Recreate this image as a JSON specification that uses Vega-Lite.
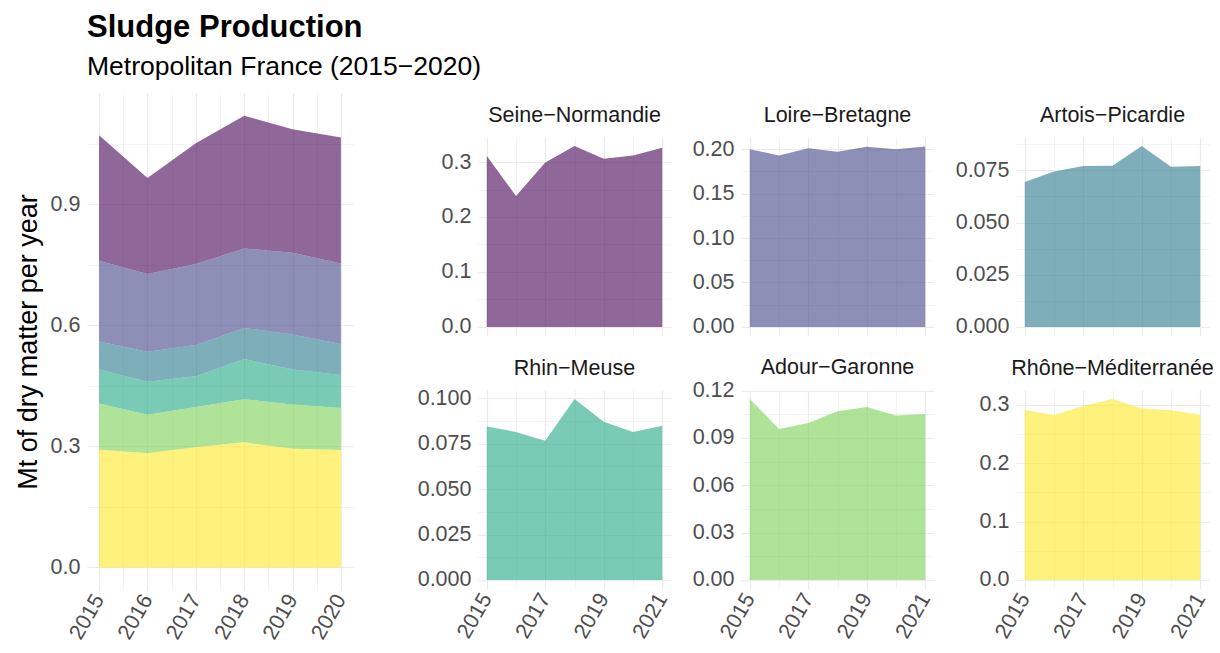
{
  "$schema": "https://vega.github.io/schema/vega-lite/v6.json",
  "padding": {"left": 14, "top": 11, "right": 4, "bottom": 4},
  "background": "white",
  "title": {
    "text": "Sludge Production",
    "subtitle": "Metropolitan France (2015−2020)",
    "anchor": "start",
    "frame": "group",
    "fontSize": 31,
    "fontWeight": "bold",
    "color": "#000000",
    "subtitleFontSize": 26.5,
    "subtitleColor": "#000000",
    "subtitleFont": "Liberation Sans",
    "subtitlePadding": 10,
    "offset": 12
  },
  "datasets": {
    "sludge": [
      {"basin": "Seine−Normandie", "year": 2015, "value": 0.311},
      {"basin": "Seine−Normandie", "year": 2016, "value": 0.238},
      {"basin": "Seine−Normandie", "year": 2017, "value": 0.299},
      {"basin": "Seine−Normandie", "year": 2018, "value": 0.329},
      {"basin": "Seine−Normandie", "year": 2019, "value": 0.306},
      {"basin": "Seine−Normandie", "year": 2020, "value": 0.312},
      {"basin": "Seine−Normandie", "year": 2021, "value": 0.326},
      {"basin": "Loire−Bretagne", "year": 2015, "value": 0.200},
      {"basin": "Loire−Bretagne", "year": 2016, "value": 0.193},
      {"basin": "Loire−Bretagne", "year": 2017, "value": 0.201},
      {"basin": "Loire−Bretagne", "year": 2018, "value": 0.197},
      {"basin": "Loire−Bretagne", "year": 2019, "value": 0.2026},
      {"basin": "Loire−Bretagne", "year": 2020, "value": 0.200},
      {"basin": "Loire−Bretagne", "year": 2021, "value": 0.203},
      {"basin": "Artois−Picardie", "year": 2015, "value": 0.0694},
      {"basin": "Artois−Picardie", "year": 2016, "value": 0.0745},
      {"basin": "Artois−Picardie", "year": 2017, "value": 0.0771},
      {"basin": "Artois−Picardie", "year": 2018, "value": 0.0772},
      {"basin": "Artois−Picardie", "year": 2019, "value": 0.0867},
      {"basin": "Artois−Picardie", "year": 2020, "value": 0.0768},
      {"basin": "Artois−Picardie", "year": 2021, "value": 0.0771},
      {"basin": "Rhin−Meuse", "year": 2015, "value": 0.0845},
      {"basin": "Rhin−Meuse", "year": 2016, "value": 0.0815},
      {"basin": "Rhin−Meuse", "year": 2017, "value": 0.0766},
      {"basin": "Rhin−Meuse", "year": 2018, "value": 0.0996},
      {"basin": "Rhin−Meuse", "year": 2019, "value": 0.0871},
      {"basin": "Rhin−Meuse", "year": 2020, "value": 0.0815},
      {"basin": "Rhin−Meuse", "year": 2021, "value": 0.0849},
      {"basin": "Adour−Garonne", "year": 2015, "value": 0.1147},
      {"basin": "Adour−Garonne", "year": 2016, "value": 0.0957},
      {"basin": "Adour−Garonne", "year": 2017, "value": 0.0995},
      {"basin": "Adour−Garonne", "year": 2018, "value": 0.1069},
      {"basin": "Adour−Garonne", "year": 2019, "value": 0.1096},
      {"basin": "Adour−Garonne", "year": 2020, "value": 0.1043},
      {"basin": "Adour−Garonne", "year": 2021, "value": 0.1052},
      {"basin": "Rhône−Méditerranée", "year": 2015, "value": 0.2914},
      {"basin": "Rhône−Méditerranée", "year": 2016, "value": 0.2828},
      {"basin": "Rhône−Méditerranée", "year": 2017, "value": 0.298},
      {"basin": "Rhône−Méditerranée", "year": 2018, "value": 0.310},
      {"basin": "Rhône−Méditerranée", "year": 2019, "value": 0.294},
      {"basin": "Rhône−Méditerranée", "year": 2020, "value": 0.291},
      {"basin": "Rhône−Méditerranée", "year": 2021, "value": 0.283}
    ]
  },
  "spacing": 64,
  "hconcat": [
    {
      "width": 266,
      "height": 497,
      "data": {"name": "sludge"},
      "transform": [
        {"filter": "datum.year <= 2020"},
        {"calculate": "indexof(['Rhône−Méditerranée','Adour−Garonne','Rhin−Meuse','Artois−Picardie','Loire−Bretagne','Seine−Normandie'], datum.basin)", "as": "stackIdx"}
      ],
      "mark": {"type": "area", "opacity": 0.6},
      "encoding": {
        "x": {
          "field": "year", "type": "quantitative",
          "scale": {"domain": [2014.75, 2020.25], "nice": false, "zero": false},
          "axis": {
            "title": null,
            "values": [2015, 2015.5, 2016, 2016.5, 2017, 2017.5, 2018, 2018.5, 2019, 2019.5, 2020],
            "labelExpr": "datum.value % 1 === 0 ? format(datum.value, 'd') : ''",
            "gridWidth": {"condition": {"test": "datum.value % 1 !== 0", "value": 0.6}, "value": 1.2},
            "labelAngle": -60, "labelAlign": "right", "labelBaseline": "middle", "labelPadding": 6
          }
        },
        "y": {
          "field": "value", "type": "quantitative", "stack": "zero",
          "scale": {"domain": [-0.056, 1.176], "nice": false, "zero": false},
          "axis": {
            "title": "Mt of dry matter per year",
            "values": [0, 0.15, 0.3, 0.45, 0.6, 0.75, 0.9, 1.05],
            "labelExpr": "round(datum.value / 0.15) % 2 === 1 ? '' : format(datum.value, '.1f')",
            "gridWidth": {"condition": {"test": "round(datum.value / 0.15) % 2 === 1", "value": 0.6}, "value": 1.2}
          }
        },
        "color": {
          "field": "basin", "type": "nominal",
          "scale": {
            "domain": ["Seine−Normandie", "Loire−Bretagne", "Artois−Picardie", "Rhin−Meuse", "Adour−Garonne", "Rhône−Méditerranée"],
            "range": ["#440154", "#414487", "#2A788E", "#22A884", "#7AD151", "#FDE725"]
          },
          "legend": null
        },
        "order": {"field": "stackIdx", "type": "quantitative"}
      }
    },
    {
      "spacing": 10,
      "vconcat": [
        {
          "width": 1,
          "height": 1,
          "data": {"values": []},
          "mark": {"type": "point", "opacity": 0}
        },
        {
          "columns": 3,
          "spacing": {"column": 20, "row": 19},
          "concat": [
            {
              "title": {"text": "Seine−Normandie", "offset": 11},
              "width": 193, "height": 199,
              "data": {"name": "sludge"},
              "transform": [{"filter": "datum.basin === 'Seine−Normandie'"}],
              "mark": {"type": "area", "color": "#440154", "opacity": 0.6},
              "encoding": {
                "x": {"field": "year", "type": "quantitative", "scale": {"domain": [2014.7, 2021.3], "nice": false, "zero": false},
                  "axis": {"title": null, "labels": false, "values": [2015, 2016, 2017, 2018, 2019, 2020, 2021],
                    "gridWidth": {"condition": {"test": "datum.value % 2 === 0", "value": 0.6}, "value": 1.2}}},
                "y": {"field": "value", "type": "quantitative", "scale": {"domain": [-0.01645, 0.3455], "nice": false, "zero": false},
                  "axis": {"title": null, "values": [0, 0.05, 0.1, 0.15, 0.2, 0.25, 0.3],
                    "labelExpr": "round(datum.value / 0.05) % 2 === 1 ? '' : format(datum.value, '.1f')",
                    "gridWidth": {"condition": {"test": "round(datum.value / 0.05) % 2 === 1", "value": 0.6}, "value": 1.2}}}
              }
            },
            {
              "title": {"text": "Loire−Bretagne", "offset": 11},
              "width": 193, "height": 199,
              "data": {"name": "sludge"},
              "transform": [{"filter": "datum.basin === 'Loire−Bretagne'"}],
              "mark": {"type": "area", "color": "#414487", "opacity": 0.6},
              "encoding": {
                "x": {"field": "year", "type": "quantitative", "scale": {"domain": [2014.7, 2021.3], "nice": false, "zero": false},
                  "axis": {"title": null, "labels": false, "values": [2015, 2016, 2017, 2018, 2019, 2020, 2021],
                    "gridWidth": {"condition": {"test": "datum.value % 2 === 0", "value": 0.6}, "value": 1.2}}},
                "y": {"field": "value", "type": "quantitative", "scale": {"domain": [-0.0102, 0.2137], "nice": false, "zero": false},
                  "axis": {"title": null, "values": [0, 0.025, 0.05, 0.075, 0.1, 0.125, 0.15, 0.175, 0.2],
                    "labelExpr": "round(datum.value / 0.025) % 2 === 1 ? '' : format(datum.value, '.2f')",
                    "gridWidth": {"condition": {"test": "round(datum.value / 0.025) % 2 === 1", "value": 0.6}, "value": 1.2}}}
              }
            },
            {
              "title": {"text": "Artois−Picardie", "offset": 6.5},
              "width": 193, "height": 199,
              "data": {"name": "sludge"},
              "transform": [{"filter": "datum.basin === 'Artois−Picardie'"}],
              "mark": {"type": "area", "color": "#2A788E", "opacity": 0.6},
              "encoding": {
                "x": {"field": "year", "type": "quantitative", "scale": {"domain": [2014.7, 2021.3], "nice": false, "zero": false},
                  "axis": {"title": null, "labels": false, "values": [2015, 2016, 2017, 2018, 2019, 2020, 2021],
                    "gridWidth": {"condition": {"test": "datum.value % 2 === 0", "value": 0.6}, "value": 1.2}}},
                "y": {"field": "value", "type": "quantitative", "scale": {"domain": [-0.00434, 0.0910], "nice": false, "zero": false},
                  "axis": {"title": null, "values": [0, 0.0125, 0.025, 0.0375, 0.05, 0.0625, 0.075, 0.0875],
                    "labelExpr": "round(datum.value / 0.0125) % 2 === 1 ? '' : format(datum.value, '.3f')",
                    "gridWidth": {"condition": {"test": "round(datum.value / 0.0125) % 2 === 1", "value": 0.6}, "value": 1.2}}}
              }
            },
            {
              "title": {"text": "Rhin−Meuse", "offset": 7.5},
              "width": 193, "height": 199,
              "data": {"name": "sludge"},
              "transform": [{"filter": "datum.basin === 'Rhin−Meuse'"}],
              "mark": {"type": "area", "color": "#22A884", "opacity": 0.6},
              "encoding": {
                "x": {"field": "year", "type": "quantitative", "scale": {"domain": [2014.7, 2021.3], "nice": false, "zero": false},
                  "axis": {"title": null, "values": [2015, 2016, 2017, 2018, 2019, 2020, 2021],
                    "labelExpr": "datum.value % 2 === 1 ? format(datum.value, 'd') : ''",
                    "gridWidth": {"condition": {"test": "datum.value % 2 === 0", "value": 0.6}, "value": 1.2},
                    "labelAngle": -60, "labelAlign": "right", "labelBaseline": "middle", "labelPadding": 6}},
                "y": {"field": "value", "type": "quantitative", "scale": {"domain": [-0.00498, 0.1046], "nice": false, "zero": false},
                  "axis": {"title": null, "values": [0, 0.0125, 0.025, 0.0375, 0.05, 0.0625, 0.075, 0.0875, 0.1],
                    "labelExpr": "round(datum.value / 0.0125) % 2 === 1 ? '' : format(datum.value, '.3f')",
                    "gridWidth": {"condition": {"test": "round(datum.value / 0.0125) % 2 === 1", "value": 0.6}, "value": 1.2}}}
              }
            },
            {
              "title": {"text": "Adour−Garonne", "offset": 1},
              "width": 193, "height": 199,
              "data": {"name": "sludge"},
              "transform": [{"filter": "datum.basin === 'Adour−Garonne'"}],
              "mark": {"type": "area", "color": "#7AD151", "opacity": 0.6},
              "encoding": {
                "x": {"field": "year", "type": "quantitative", "scale": {"domain": [2014.7, 2021.3], "nice": false, "zero": false},
                  "axis": {"title": null, "values": [2015, 2016, 2017, 2018, 2019, 2020, 2021],
                    "labelExpr": "datum.value % 2 === 1 ? format(datum.value, 'd') : ''",
                    "gridWidth": {"condition": {"test": "datum.value % 2 === 0", "value": 0.6}, "value": 1.2},
                    "labelAngle": -60, "labelAlign": "right", "labelBaseline": "middle", "labelPadding": 6}},
                "y": {"field": "value", "type": "quantitative", "scale": {"domain": [-0.00574, 0.1204], "nice": false, "zero": false},
                  "axis": {"title": null, "values": [0, 0.015, 0.03, 0.045, 0.06, 0.075, 0.09, 0.105, 0.12],
                    "labelExpr": "round(datum.value / 0.015) % 2 === 1 ? '' : format(datum.value, '.2f')",
                    "gridWidth": {"condition": {"test": "round(datum.value / 0.015) % 2 === 1", "value": 0.6}, "value": 1.2}}}
              }
            },
            {
              "title": {"text": "Rhône−Méditerranée", "offset": 11},
              "width": 193, "height": 199,
              "data": {"name": "sludge"},
              "transform": [{"filter": "datum.basin === 'Rhône−Méditerranée'"}],
              "mark": {"type": "area", "color": "#FDE725", "opacity": 0.6},
              "encoding": {
                "x": {"field": "year", "type": "quantitative", "scale": {"domain": [2014.7, 2021.3], "nice": false, "zero": false},
                  "axis": {"title": null, "values": [2015, 2016, 2017, 2018, 2019, 2020, 2021],
                    "labelExpr": "datum.value % 2 === 1 ? format(datum.value, 'd') : ''",
                    "gridWidth": {"condition": {"test": "datum.value % 2 === 0", "value": 0.6}, "value": 1.2},
                    "labelAngle": -60, "labelAlign": "right", "labelBaseline": "middle", "labelPadding": 6}},
                "y": {"field": "value", "type": "quantitative", "scale": {"domain": [-0.0155, 0.3255], "nice": false, "zero": false},
                  "axis": {"title": null, "values": [0, 0.05, 0.1, 0.15, 0.2, 0.25, 0.3],
                    "labelExpr": "round(datum.value / 0.05) % 2 === 1 ? '' : format(datum.value, '.1f')",
                    "gridWidth": {"condition": {"test": "round(datum.value / 0.05) % 2 === 1", "value": 0.6}, "value": 1.2}}}
              }
            }
          ]
        }
      ]
    }
  ],
  "config": {
    "font": "Liberation Sans",
    "view": {"stroke": null},
    "title": {
      "font": "Liberation Sans",
      "fontSize": 21.5,
      "fontWeight": "normal",
      "color": "#1A1A1A",
      "anchor": "middle",
      "offset": 11
    },
    "axis": {
      "domain": false,
      "ticks": false,
      "gridColor": "#EBEBEB",
      "labelFont": "Liberation Sans",
      "labelFontSize": 21.5,
      "labelColor": "#4D4D4D",
      "labelPadding": 7,
      "labelOverlap": false,
      "labelBound": false,
      "labelFlush": false,
      "titleFont": "Liberation Sans",
      "titleFontSize": 27,
      "titleFontWeight": "normal",
      "titleColor": "#000000",
      "titlePadding": 8,
      "minExtent": 0
    }
  }
}
